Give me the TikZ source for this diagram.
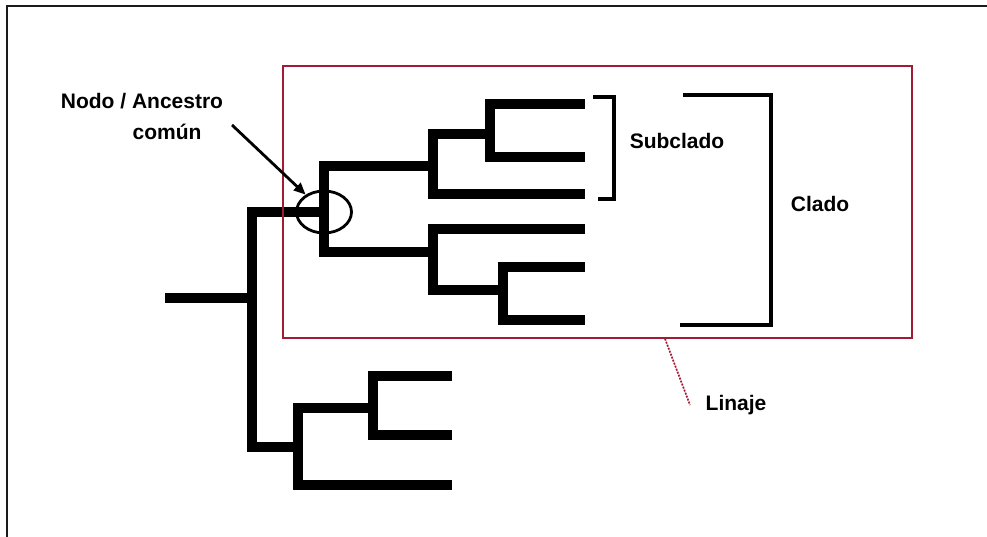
\documentclass[tikz,border=0pt]{standalone}
\usepackage{fontspec}
\setmainfont{Liberation Sans}
\usepackage{tikz}
\usetikzlibrary{positioning, arrows.meta, shapes.geometric}
\definecolor{lineagered}{HTML}{A01C34}
\definecolor{framegray}{HTML}{1A1A1A}

\begin{document}
\begin{tikzpicture}[
    x=1pt, y=-1pt,
    >={Triangle[length=12pt, width=10pt]},
    branch/.style={line width=9.5pt, line join=miter, line cap=butt},
    brace/.style={line width=3.2pt, line join=miter},
    lineage/.style={rectangle, draw=lineagered, line width=1.5pt, inner sep=0pt},
    leader/.style={lineagered, line width=1.7pt, dash pattern=on 2pt off 1.2pt},
    tag/.style={font=\fontsize{21}{25}\selectfont\bfseries, inner sep=0pt, anchor=base}
  ]
  \useasboundingbox (0,0) rectangle (987,537);

  % Frame (left and top only)
  \coordinate (fbl) at (7,537);
  \coordinate (ftl) at (7,6);
  \coordinate (ftr) at (987,6);
  \draw[framegray, line width=2pt] (fbl) -- (ftl) -- (ftr);

  % Branch points
  \coordinate (root) at (165,298);
  \coordinate (n1) at (252,298);
  \coordinate (n2) at (324,212);
  \coordinate (n3) at (433,166);
  \coordinate (n4) at (490,134);
  \coordinate (n5) at (433,252);
  \coordinate (n6) at (503,290);
  \coordinate (n7) at (298,447);
  \coordinate (n8) at (373,408);

  % Tips
  \coordinate (ta) at (585,104);
  \coordinate (tb) at (585,157);
  \coordinate (tc) at (585,194);
  \coordinate (td) at (585,229);
  \coordinate (te) at (585,267);
  \coordinate (tf) at (585,320);
  \coordinate (tg) at (452,376);
  \coordinate (th) at (452,435);
  \coordinate (ti) at (452,485);

  % Tree
  \draw[branch] (ta) -| (n4) |- (tb);
  \draw[branch] (n4) -| (n3) |- (tc);
  \draw[branch] (n3) -| (n2) |- (n5);
  \draw[branch] (td) -| (n5) |- (n6);
  \draw[branch] (te) -| (n6) |- (tf);
  \draw[branch] (n2) -| (n1) |- (n7);
  \draw[branch] (root) -- (n1);
  \draw[branch] (tg) -| (n8) |- (th);
  \draw[branch] (n8) -| (n7) |- (ti);

  % Lineage box
  \node[lineage, minimum width=629pt, minimum height=272pt] (lin) at (597.5,202) {};

  % Common ancestor
  \node[draw, ellipse, line width=2.8pt, minimum width=55pt, minimum height=42pt,
        inner sep=0pt] (anc) at (n2) {};
  \node[tag] (nodo) at (142,109) {Nodo / Ancestro};
  \node[tag] (comun) at (167,140) {común};
  \coordinate (tail) at (232,125);
  \draw[->, line width=2.8pt] (tail) -- (anc);

  % Brackets
  \coordinate (sub1) at (593,97);
  \coordinate (sub2) at (598,199);
  \draw[brace] (sub1) -- ++(21,0) |- (sub2);
  \node[tag] (subclado) at (677,149) {Subclado};

  \coordinate (cla1) at (683,95);
  \coordinate (cla2) at (680,325);
  \draw[brace] (cla1) -- ++(88,0) |- (cla2);
  \node[tag] (clado) at (820,212) {Clado};

  % Lineage label
  \node[tag] (linaje) at (736,410) {Linaje};
  \coordinate (lend) at (690,405);
  \draw[leader] ([xshift=67.5pt]lin.south) -- (lend);
\end{tikzpicture}
\end{document}
